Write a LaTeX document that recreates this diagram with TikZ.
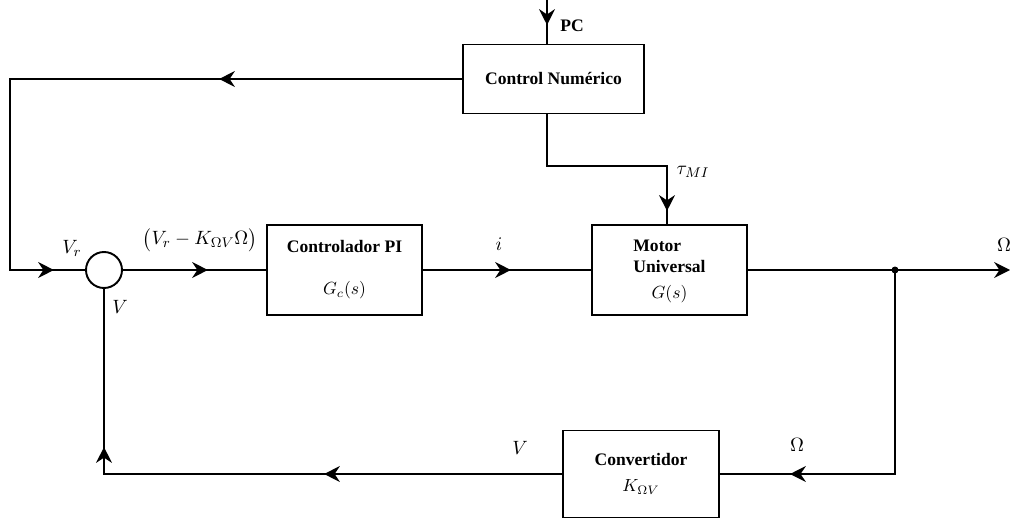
\documentclass[tikz,border=0pt]{standalone}
\usepackage{amsmath}
\usepackage{fontspec}
\setmainfont{Liberation Serif}
\usetikzlibrary{arrows.meta,positioning,calc,decorations.markings}
\tikzstyle{blk} = [draw, line width=1.1pt, rectangle, align=center, inner sep=2pt, font=\fontsize{10}{12}\selectfont\bfseries]
\tikzstyle{wire} = [line width=1.1pt]
\tikzstyle{lbl} = [font=\fontsize{11}{13}\selectfont, inner sep=1pt]
\tikzset{flowat/.style={postaction={decorate,decoration={markings,
  mark=at position #1 with {\arrow{Stealth[length=9pt,width=9pt,inset=3pt]}}}}}}

\begin{document}
\begin{tikzpicture}
    \useasboundingbox (0,0) rectangle (20.26,-10.48);

    % Blocks
    \node[blk, minimum width=3.62cm, minimum height=1.38cm] (cn) at (11.07,-1.58) {Control Numérico};
    \node[draw, wire, circle, minimum size=0.72cm, inner sep=0pt] (sum) at (2.08,-5.4) {};
    \node[blk, minimum width=3.1cm, minimum height=1.8cm] (pi) at (6.89,-5.4) {Controlador PI\\[12pt]\mdseries$G_c(s)$};
    \node[blk, minimum width=3.1cm, minimum height=1.8cm] (motor) at (13.39,-5.4)
        {\begin{tabular}{@{}l@{}}Motor\\Universal\end{tabular}\\[3pt]\mdseries$G(s)$};
    \node[blk, minimum width=3.12cm, minimum height=1.74cm] (conv) at (12.82,-9.48) {Convertidor\\[3pt]\mdseries$K_{\Omega V}$};

    % Helper points
    \coordinate (pc) at (10.94,0);
    \coordinate (lt) at (0.2,-5.4);
    \coordinate (tk) at (13.34,-3.32);
    \coordinate (split) at (17.9,-5.4);
    \coordinate (out) at (20.2,-5.4);
    \coordinate (br) at (17.9,-9.48);

    % PC input
    \draw[wire, flowat=0.5cm] (pc) -- (pc |- cn.north);
    \node[blk, draw=none, anchor=west] (pclbl) at (11.12,-0.52) {PC};

    % Reference from control numerico
    \draw[wire, flowat=4.86cm, flowat=13.74cm] (cn.west) -| (lt) -- (sum.west);
    \node[lbl] (vr) at (1.44,-4.96) {$V_r$};

    % Forward path
    \draw[wire, flowat=1.7cm] (sum.east) -- (pi.west);
    \node[lbl] (err) at (4.0,-4.8) {$\bigl(V_r-K_{\Omega V}\Omega\bigr)$};
    \draw[wire, flowat=1.76cm] (pi.east) -- (motor.west);
    \node[lbl] (ilbl) at (9.98,-4.88) {$i$};

    % Load torque
    \draw[wire, flowat=4.33cm] (pc |- cn.south) |- (tk) -- (tk |- motor.north);
    \node[lbl] (taulbl) at (13.86,-3.44) {$\tau_{MI}$};

    % Output
    \draw[wire, -{Stealth[length=9pt,width=9pt,inset=3pt]}] (motor.east) -- (out);
    \fill (split) circle (0.07);
    \node[lbl] (om1) at (20.08,-4.9) {$\Omega$};

    % Feedback
    \draw[wire, flowat=6.18cm] (split) -- (br) -- (conv.east);
    \node[lbl] (om2) at (15.94,-8.9) {$\Omega$};
    \draw[wire, flowat=4.76cm, flowat=9.7cm] (conv.west) -- (sum.south |- conv.west) -- (sum.south);
    \node[lbl] (vlbl) at (10.4,-8.96) {$V$};
    \node[lbl] (vsum) at (2.4,-6.14) {$V$};
\end{tikzpicture}
\end{document}
